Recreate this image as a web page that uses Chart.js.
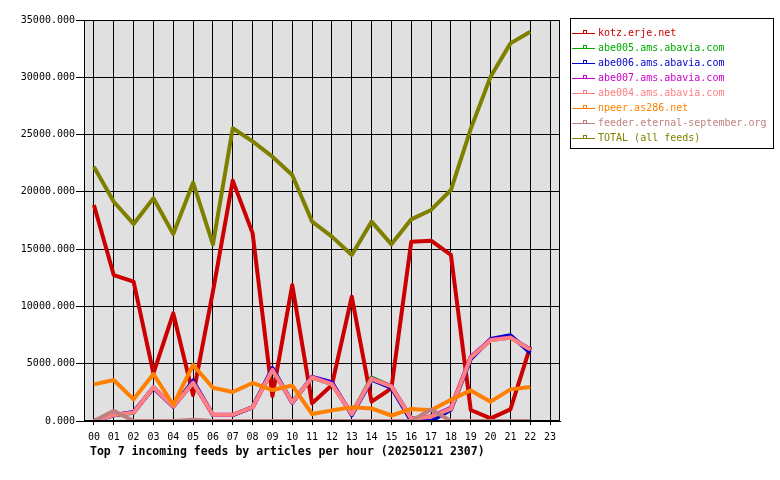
<!DOCTYPE html>
<html>
<head>
<meta charset="utf-8">
<script src="https://cdn.jsdelivr.net/npm/chart.js@4"></script>
<style>
  body { margin: 0; background: #fff; }
  #wrap { width: 780px; height: 480px; }
</style>
</head>
<body>
<div id="wrap"><canvas id="feedChart" width="780" height="480"></canvas></div>
<script>
// hours on the x axis
const hours = ['00','01','02','03','04','05','06','07','08','09','10','11',
               '12','13','14','15','16','17','18','19','20','21','22','23'];

// series names and colours (in legend order)
const feedNames = ['kotz.erje.net', 'abe005.ams.abavia.com', 'abe006.ams.abavia.com',
                   'abe007.ams.abavia.com', 'abe004.ams.abavia.com', 'npeer.as286.net',
                   'feeder.eternal-september.org', 'TOTAL (all feeds)'];
const feedColors = ['#cc0000', '#00aa00', '#0000cc', '#cc00cc', '#ff8080', '#ff8000', '#c08080', '#808000'];

// articles per hour (hours 00..22)
const kotz   = [18850, 12740, 12160, 4160, 9400, 2270, 11300, 20980, 16400, 2180, 11870, 1540,
                3140, 10850, 1690, 2850, 15650, 15740, 14490, 960, 230, 1020, 6490];
const abe005 = [0, 510, 720, 2930, 1270, 3340, 530, 530, 1190, 4460, 1640, 3790,
                3210, 610, 3800, 3030, 210, 390, 1100, 5560, 7060, 7280, 6240];
const abe006 = [0, 500, 780, 2900, 1250, 3520, 520, 520, 1220, 4620, 1600, 3850,
                3380, 500, 3600, 2900, 0, 0, 980, 5400, 7150, 7480, 5950];
const abe007 = [0, 540, 740, 2920, 1260, 3350, 540, 540, 1180, 4480, 1620, 3820,
                3250, 620, 3700, 3050, 220, 400, 1150, 5600, 7100, 7300, 6250];
const abe004 = [0, 520, 730, 2940, 1280, 3330, 550, 550, 1200, 4450, 1630, 3800,
                3200, 600, 3680, 3020, 200, 380, 1050, 5550, 7050, 7270, 6230];
const npeer  = [3200, 3580, 1890, 4100, 1400, 4890, 2900, 2530, 3320, 2700, 3100, 610,
                930, 1190, 1100, 480, 1050, 930, 1860, 2670, 1690, 2760, 2970];
const feeder = [0, 900, 0, 0, 0, 100, 0, 0, 0, 0, 0, 0,
                0, 0, 0, 0, 0, 1000, 0, 0, 0, 0, 0];
const total  = [22200, 19140, 17200, 19440, 16320, 20800, 15420, 25550, 24400, 23070, 21470, 17400,
                16090, 14490, 17400, 15420, 17600, 18420, 20160, 25500, 30050, 32960, 33980];

const yTicks = [0, 5000, 10000, 15000, 20000, 25000, 30000, 35000];
const chartTitle = 'Top 7 incoming feeds by articles per hour (20250121 2307)';

const seriesData = [kotz, abe005, abe006, abe007, abe004, npeer, feeder, total];

// grey plot background + frame, boxed legend and bottom title
const framePlugin = {
  id: 'frame',
  beforeDraw(chart) {
    const { ctx, chartArea: a } = chart;
    ctx.save();
    ctx.fillStyle = '#fff';
    ctx.fillRect(0, 0, chart.width, chart.height);
    ctx.fillStyle = '#e0e0e0';
    ctx.fillRect(a.left, a.top, a.right - a.left, a.bottom - a.top);
    ctx.restore();
  },
  afterDraw(chart) {
    const { ctx, chartArea: a } = chart;
    ctx.save();
    ctx.strokeStyle = '#000';
    ctx.lineWidth = 1;
    ctx.strokeRect(Math.round(a.left) + 0.5, Math.round(a.top) + 0.5,
                   Math.round(a.right - a.left) - 1, Math.round(a.bottom - a.top) - 1);

    // legend box
    ctx.fillStyle = '#fff';
    ctx.fillRect(570.5, 18.5, 203, 130);
    ctx.strokeRect(570.5, 18.5, 203, 130);
    ctx.font = '10px "DejaVu Sans Mono"';
    ctx.textBaseline = 'middle';
    chart.data.datasets.forEach((ds, i) => {
      const y = 33.5 + 15 * i;
      ctx.strokeStyle = ds.borderColor;
      ctx.beginPath();
      ctx.moveTo(572, y);
      ctx.lineTo(595, y);
      ctx.stroke();
      ctx.strokeRect(583.5, y - 3, 3, 3);
      ctx.fillStyle = ds.borderColor;
      ctx.fillText(ds.label, 598, y);
    });

    // title under the x axis
    ctx.fillStyle = '#000';
    ctx.font = 'bold 11.5px "DejaVu Sans Mono"';
    ctx.textBaseline = 'middle';
    ctx.fillText(chartTitle, 90, 452);
    ctx.restore();
  }
};

const ctx = document.getElementById('feedChart').getContext('2d');
new Chart(ctx, {
  type: 'line',
  data: {
    labels: hours,
    datasets: seriesData.map((d, i) => ({
      label: feedNames[i],
      data: d,
      borderColor: feedColors[i],
      backgroundColor: feedColors[i],
      borderWidth: 4,
      borderJoinStyle: 'round',
      pointRadius: 0,
      tension: 0,
      fill: false,
      order: seriesData.length - i   // later series on top, like the original
    }))
  },
  options: {
    responsive: false,
    animation: false,
    layout: { padding: { left: 0, top: 20, right: 220, bottom: 0 } },
    plugins: {
      legend: { display: false },
      title: { display: false },
      tooltip: { enabled: false }
    },
    scales: {
      x: {
        offset: true,
        afterFit(scale) { scale.height = 59; },
        grid: { color: '#000', lineWidth: 1, tickLength: 4, offset: false },
        border: { color: '#000' },
        ticks: {
          color: '#000',
          font: { family: 'DejaVu Sans Mono', size: 10 },
          padding: 6,
          maxRotation: 0,
          autoSkip: false
        }
      },
      y: {
        min: 0,
        max: 35000,
        afterFit(scale) { scale.width = 84; },
        afterBuildTicks(scale) { scale.ticks = yTicks.map(v => ({ value: v })); },
        grid: { color: '#000', lineWidth: 1, tickLength: 8 },
        border: { color: '#000' },
        ticks: {
          color: '#000',
          font: { family: 'DejaVu Sans Mono', size: 10 },
          padding: 1,
          callback: v => Number(v).toFixed(3)
        }
      }
    }
  },
  plugins: [framePlugin]
});
</script>
</body>
</html>
